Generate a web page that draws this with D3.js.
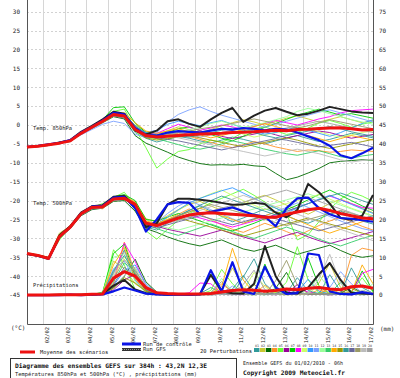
<!DOCTYPE html>
<html><head><meta charset="utf-8">
<script src="https://cdn.jsdelivr.net/npm/d3@7"></script>
<style>body{margin:0;background:#fff}svg{display:block}</style>
</head><body>
<script>
const hours = d3.range(0, 385, 12);
const dateLabels = ["02/02","03/02","04/02","05/02","06/02","07/02","08/02","09/02","10/02","11/02","12/02","13/02","14/02","15/02","16/02","17/02"];
const leftTicks = [30,25,20,15,10,5,0,-5,-10,-15,-20,-25,-30,-35,-40,-45];
const rightTicks = [75,70,65,60,55,50,45,40,35,30,25,20,15,10,5,0];
const memberColors = ["#2f9a9a","#c8c832","#006a00","#ff9428","#66ff33","#990099","#00cc00","#ff00ff","#ccff66","#3399ff","#7aa0ff","#99ff99","#33cc66","#ffaa00","#999900","#339999","#666699","#999966","#bbbbbb","#a0a0a0"];

const t850Mean = [-5.8,-5.6,-5.2,-4.8,-4.2,-2.2,-0.6,1.0,2.8,2.4,-1.2,-2.8,-3.2,-3.0,-2.8,-2.6,-2.4,-2.3,-2.2,-2.0,-1.9,-1.8,-1.6,-1.4,-1.5,-1.2,-1.1,-0.9,-0.8,-0.7,-1.0,-1.3,-1.2];
const t850Ctrl = [-5.8,-5.5,-5.1,-4.7,-4.0,-2.0,-0.5,1.2,3.2,2.8,-0.8,-2.6,-2.8,-2.0,-1.6,-1.8,-2.0,-1.5,-1.0,-1.2,-0.8,-1.0,-1.4,-1.0,-1.2,-2.0,-3.0,-4.0,-5.5,-8.0,-8.8,-7.5,-6.0];
const t850Gfs = [-5.9,-5.6,-5.3,-4.6,-4.0,-1.8,-0.2,1.5,3.5,3.0,-1.5,-2.5,-1.5,1.0,1.5,0.3,-0.5,1.5,3.2,4.5,0.8,2.5,3.8,4.5,3.5,2.6,3.0,3.8,4.8,4.2,3.6,3.3,3.2];
const t850Members = [
[-5.9,-5.5,-5.0,-4.9,-4.0,-2.5,-0.8,0.8,2.5,2.0,-2.0,-3.5,-4.5,-3.8,-3.0,-3.5,-4.2,-4.8,-4.0,-3.2,-3.8,-4.5,-5.0,-4.2,-3.5,-2.8,-3.6,-4.4,-3.8,-3.0,-2.2,-2.8,-3.4],
[-5.8,-5.7,-5.3,-4.6,-4.3,-2.0,-0.4,1.3,3.2,2.6,0.0,-1.8,-2.5,-1.5,-0.5,-1.2,-2.0,-1.2,-0.2,0.6,1.4,0.8,0.0,0.9,1.8,2.4,1.6,0.8,1.5,2.2,1.4,0.6,1.2],
[-5.7,-5.6,-5.1,-4.7,-4.4,-2.4,-0.9,0.6,2.2,1.6,-2.8,-4.8,-6.0,-7.2,-8.5,-9.4,-10.2,-10.6,-10.5,-10.6,-10.4,-10.8,-11.0,-12.8,-14.5,-13.8,-12.7,-11.5,-10.0,-9.6,-9.4,-9.2,-9.3],
[-5.8,-5.4,-5.2,-4.8,-4.1,-2.1,-0.7,1.1,3.0,2.6,-0.5,-2.4,-3.0,-2.6,-2.2,-3.0,-3.8,-4.6,-5.4,-6.0,-5.2,-4.4,-5.0,-5.8,-6.4,-7.0,-6.6,-6.8,-7.2,-7.0,-6.6,-6.8,-7.0],
[-5.8,-5.6,-5.2,-4.7,-4.2,-2.3,-0.6,1.2,3.6,4.2,-1.0,-6.0,-11.4,-9.0,-7.0,-6.5,-5.0,-4.0,-4.5,-3.5,-2.0,-1.0,-0.5,-1.5,-2.5,-2.0,-0.8,0.5,1.2,0.4,-0.6,0.2,0.8],
[-5.9,-5.6,-5.2,-4.8,-4.3,-2.2,-0.5,0.9,2.6,2.2,-1.5,-3.0,-3.4,-3.0,-2.6,-2.0,-1.6,-2.2,-3.0,-3.6,-3.0,-2.4,-1.8,-2.6,-3.4,-2.8,-2.2,-1.6,-2.0,-2.8,-3.5,-3.0,-2.5],
[-5.8,-5.5,-5.1,-4.8,-4.2,-2.0,-0.3,1.4,4.6,4.8,0.5,-2.0,-2.8,-2.0,-1.0,-0.5,-1.5,-2.5,-3.5,-4.2,-3.0,-1.8,-0.6,0.4,1.5,2.6,3.4,4.2,3.4,2.6,3.0,2.4,1.8],
[-5.8,-5.7,-5.2,-4.9,-4.1,-2.2,-0.6,1.0,2.9,2.5,-1.0,-2.4,-2.2,-1.0,0.2,-0.6,-1.4,-0.8,0.0,-0.5,-1.2,-0.4,0.4,1.2,0.6,0.0,0.8,1.6,2.2,3.2,3.8,4.0,4.2],
[-5.7,-5.6,-5.3,-4.6,-4.3,-2.4,-0.8,0.7,2.4,2.0,-1.8,-3.2,-3.8,-3.4,-2.8,-2.4,-2.0,-1.4,-0.8,-1.6,-2.4,-3.2,-2.6,-2.0,-1.2,-0.4,-1.0,-1.8,-2.6,-3.2,-2.6,-2.0,-1.6],
[-5.8,-5.5,-5.2,-4.8,-4.2,-2.1,-0.5,1.1,3.0,2.7,-0.4,-2.0,-1.4,0.2,1.0,0.4,-0.2,0.6,1.2,0.2,-0.8,-1.6,-2.4,-2.0,-1.2,-0.6,-1.4,-2.2,-3.0,-2.0,-0.8,0.4,1.4],
[-5.9,-5.5,-5.0,-4.5,-4.0,-2.6,-1.2,0.2,1.0,0.4,-2.5,-3.2,-2.0,0.8,2.8,4.0,4.8,3.6,2.6,1.8,1.0,0.2,-0.6,0.2,1.0,1.8,2.6,3.4,4.0,3.2,2.4,1.6,0.8],
[-5.8,-5.6,-5.2,-4.7,-4.2,-2.2,-0.4,1.2,3.4,3.0,-0.8,-2.6,-3.0,-2.4,-1.8,-1.2,-0.6,0.4,1.0,0.2,-0.6,-0.2,0.6,1.4,2.2,3.6,4.4,3.8,3.0,2.2,1.4,0.8,0.2],
[-5.8,-5.5,-5.1,-4.8,-4.2,-2.3,-0.7,0.9,2.7,2.3,-1.2,-3.0,-3.6,-4.4,-5.2,-6.0,-6.4,-5.8,-5.0,-4.2,-4.8,-5.6,-6.4,-7.0,-7.6,-8.0,-7.4,-6.8,-7.6,-8.4,-8.8,-8.2,-7.8],
[-5.8,-5.6,-5.3,-4.7,-4.3,-2.1,-0.5,1.1,2.8,3.2,0.6,-1.6,-2.2,-1.6,-1.0,-1.8,-2.6,-3.4,-2.8,-2.0,-1.2,-0.4,0.4,-0.4,-1.2,-2.0,-2.8,-3.6,-4.4,-3.6,-2.8,-3.4,-4.0],
[-5.9,-5.6,-5.2,-4.8,-4.2,-2.2,-0.6,1.0,2.6,2.2,-1.4,-3.4,-4.0,-3.6,-3.2,-2.8,-3.4,-4.0,-4.6,-5.2,-5.8,-5.2,-4.6,-4.0,-3.4,-4.0,-4.8,-5.6,-6.2,-5.6,-5.0,-4.4,-3.8],
[-5.8,-5.5,-5.1,-4.7,-4.1,-2.0,-0.4,1.2,3.1,2.8,-0.2,-2.2,-2.6,-2.2,-2.6,-3.2,-2.6,-2.0,-1.4,-0.8,-1.4,-2.0,-2.8,-3.4,-2.8,-2.2,-1.6,-1.0,-0.4,-1.0,-1.8,-2.4,-3.0],
[-5.8,-5.6,-5.2,-4.8,-4.2,-2.4,-0.8,0.8,2.4,1.8,-1.6,-3.2,-3.4,-3.8,-4.2,-4.8,-5.4,-6.0,-6.6,-6.0,-5.4,-4.8,-4.2,-3.6,-4.0,-4.6,-5.2,-5.8,-5.4,-5.0,-4.6,-5.2,-5.8],
[-5.8,-5.5,-5.2,-4.8,-4.3,-2.2,-0.6,1.0,2.8,2.4,-1.0,-2.8,-3.0,-2.4,-2.0,-1.6,-1.0,-0.6,-0.2,0.4,1.0,1.6,1.0,0.4,-0.2,-0.8,-0.2,0.6,1.4,0.8,0.2,-0.4,-1.0],
[-5.8,-5.6,-5.2,-4.7,-4.2,-2.2,-0.6,1.1,2.9,2.5,-1.2,-3.0,-3.2,-2.8,-3.4,-4.0,-4.6,-5.2,-5.8,-6.4,-7.0,-7.6,-8.2,-7.6,-7.0,-6.4,-7.0,-7.6,-8.4,-9.2,-9.8,-9.4,-9.0],
[-5.8,-5.6,-5.1,-4.8,-4.2,-2.1,-0.6,1.0,2.8,2.4,-1.2,-2.6,-2.8,-2.4,-2.0,-2.6,-3.2,-2.6,-2.0,-1.4,-0.8,-1.4,-2.0,-1.4,-0.8,-0.2,0.4,1.0,0.4,-0.2,-0.8,-1.4,-2.0]
];

const t500Mean = [-34.0,-34.5,-35.3,-29.5,-27.0,-23.5,-21.8,-21.6,-19.6,-19.4,-21.0,-26.0,-26.6,-25.6,-24.6,-23.8,-23.4,-23.2,-23.4,-23.6,-23.8,-24.0,-24.4,-24.4,-23.6,-23.0,-22.4,-22.0,-22.6,-23.4,-24.0,-24.6,-24.8];
const t500Ctrl = [-34.0,-34.6,-35.4,-29.6,-27.0,-23.4,-21.6,-21.4,-19.2,-19.0,-22.0,-28.2,-25.0,-21.0,-20.4,-20.6,-23.6,-23.0,-22.4,-21.8,-22.8,-23.8,-24.2,-26.8,-22.0,-19.4,-19.2,-22.0,-23.6,-24.6,-24.8,-25.2,-25.6];
const t500Gfs = [-34.1,-34.5,-35.2,-29.2,-26.8,-23.2,-21.5,-21.2,-19.0,-18.8,-21.5,-27.0,-26.0,-21.0,-19.5,-19.5,-19.8,-20.1,-20.6,-21.1,-21.0,-20.6,-20.9,-23.2,-24.4,-22.5,-15.6,-17.8,-20.8,-24.6,-25.1,-24.0,-18.5];
const t500Members = [
[-34.2,-34.8,-35.6,-30.2,-27.2,-23.8,-22.0,-21.2,-19.8,-19.0,-22.4,-27.0,-27.8,-26.0,-24.0,-22.6,-21.4,-22.8,-24.2,-25.6,-24.6,-23.4,-22.2,-23.0,-24.0,-25.2,-26.0,-24.8,-23.6,-22.8,-24.0,-25.4,-26.2],
[-33.8,-34.3,-35.0,-28.6,-26.8,-23.2,-21.4,-21.8,-19.4,-19.8,-20.2,-24.8,-25.6,-24.0,-22.4,-21.0,-20.2,-21.4,-22.6,-21.8,-20.6,-19.4,-18.6,-19.8,-21.2,-22.4,-23.6,-22.2,-20.8,-19.6,-20.8,-22.0,-23.2],
[-34.1,-34.6,-35.4,-29.8,-27.4,-24.0,-22.4,-22.0,-20.2,-20.0,-22.8,-27.4,-28.4,-29.6,-30.6,-31.4,-32.0,-31.2,-30.4,-31.6,-32.8,-33.4,-32.6,-31.8,-33.0,-34.2,-33.4,-32.6,-31.8,-33.2,-34.4,-35.0,-34.6],
[-34.0,-34.4,-35.2,-29.0,-26.6,-23.0,-21.6,-22.2,-19.0,-18.6,-20.4,-25.6,-26.4,-25.0,-23.6,-22.2,-23.6,-25.0,-26.4,-27.6,-28.4,-27.2,-26.0,-27.0,-28.2,-29.4,-28.0,-26.6,-25.4,-24.4,-25.6,-26.8,-27.8],
[-34.0,-34.6,-35.2,-30.4,-27.0,-23.6,-21.8,-20.8,-19.2,-17.8,-21.4,-28.0,-30.2,-27.6,-25.2,-23.4,-22.0,-20.6,-19.4,-18.2,-17.0,-18.6,-20.4,-22.0,-23.4,-30.4,-29.0,-25.6,-22.2,-19.6,-17.8,-18.8,-20.2],
[-34.2,-34.5,-35.4,-29.6,-27.1,-23.4,-22.0,-21.6,-19.6,-19.6,-21.2,-26.2,-26.8,-27.6,-28.2,-28.8,-29.4,-28.6,-27.8,-28.8,-29.6,-30.4,-31.2,-30.2,-29.2,-28.4,-29.6,-30.6,-31.4,-30.6,-29.8,-29.0,-28.2],
[-33.9,-34.4,-35.1,-29.2,-26.9,-23.4,-21.6,-21.4,-19.0,-18.4,-20.0,-25.0,-25.4,-24.4,-23.4,-24.4,-25.4,-26.4,-27.4,-28.0,-27.0,-26.0,-24.8,-23.6,-22.4,-21.2,-19.8,-18.4,-17.2,-18.6,-20.0,-21.4,-22.6],
[-34.0,-34.6,-35.3,-29.4,-27.0,-23.6,-21.8,-21.6,-19.6,-19.2,-21.0,-26.2,-26.8,-25.8,-24.8,-23.8,-24.6,-25.4,-26.2,-27.0,-26.2,-25.4,-24.6,-23.8,-22.8,-21.8,-20.8,-19.8,-18.8,-19.8,-20.8,-21.8,-22.0],
[-34.1,-34.5,-35.4,-29.6,-27.2,-23.6,-21.9,-21.8,-19.8,-19.6,-21.4,-26.4,-26.4,-24.6,-22.6,-20.8,-19.4,-18.2,-17.2,-18.6,-20.0,-21.2,-22.4,-21.6,-20.8,-20.0,-19.2,-18.4,-19.6,-20.8,-22.0,-23.0,-24.0],
[-34.0,-34.5,-35.3,-29.4,-27.0,-23.4,-21.7,-21.5,-19.4,-19.2,-20.6,-25.8,-26.2,-24.4,-22.4,-20.6,-19.4,-18.4,-17.4,-16.6,-18.0,-19.4,-20.8,-22.0,-23.2,-22.0,-20.8,-19.6,-18.6,-19.8,-21.0,-22.2,-23.4],
[-34.0,-34.6,-35.5,-29.8,-27.2,-23.8,-22.2,-21.8,-19.8,-19.6,-21.6,-26.6,-25.8,-23.4,-21.4,-20.0,-21.2,-22.4,-23.6,-24.8,-26.0,-25.0,-24.0,-23.0,-21.8,-20.6,-21.8,-23.0,-24.2,-25.4,-26.4,-27.4,-28.0],
[-33.9,-34.4,-35.2,-29.4,-26.9,-23.4,-21.7,-21.6,-19.6,-19.4,-21.0,-26.0,-26.6,-27.2,-27.8,-27.0,-26.2,-25.4,-24.6,-23.8,-23.0,-22.2,-21.4,-20.6,-19.8,-19.0,-18.2,-19.2,-20.2,-21.2,-22.2,-23.2,-24.2],
[-34.1,-34.6,-35.3,-29.6,-27.1,-23.6,-21.9,-21.7,-19.7,-19.5,-21.2,-26.4,-27.4,-28.4,-29.2,-28.2,-27.2,-26.2,-27.2,-28.2,-29.2,-30.0,-29.0,-28.0,-27.0,-28.0,-29.0,-30.2,-31.2,-32.0,-31.0,-30.0,-29.2],
[-34.0,-34.4,-35.2,-29.2,-26.8,-23.2,-21.6,-21.4,-19.4,-18.8,-20.6,-25.4,-26.0,-25.0,-24.0,-23.0,-22.0,-23.0,-24.0,-25.0,-26.0,-25.0,-24.0,-23.0,-24.0,-25.2,-26.4,-27.6,-28.6,-27.6,-26.6,-25.6,-24.8],
[-34.0,-34.5,-35.3,-29.5,-27.0,-23.5,-21.8,-21.6,-19.6,-19.4,-21.0,-26.0,-26.6,-25.6,-24.6,-25.4,-26.2,-27.0,-27.8,-28.6,-29.4,-28.6,-27.8,-27.0,-26.2,-25.4,-24.6,-25.4,-26.2,-27.0,-27.8,-28.6,-29.4],
[-34.0,-34.5,-35.4,-29.6,-27.1,-23.5,-21.8,-21.7,-19.7,-19.5,-21.1,-26.1,-26.8,-25.4,-24.0,-22.6,-21.2,-20.0,-18.8,-19.8,-20.8,-21.8,-22.8,-23.8,-22.8,-21.8,-20.8,-19.8,-18.8,-18.0,-19.0,-20.0,-21.0],
[-34.2,-34.7,-35.5,-29.9,-27.3,-23.8,-22.1,-21.9,-19.9,-19.7,-21.4,-26.6,-27.2,-26.4,-25.6,-24.8,-24.0,-24.8,-25.6,-26.4,-25.6,-24.8,-24.0,-24.8,-25.6,-26.4,-27.2,-28.0,-27.2,-26.4,-25.6,-24.8,-24.0],
[-33.9,-34.4,-35.2,-29.3,-26.9,-23.4,-21.7,-21.5,-19.5,-19.3,-20.9,-25.9,-26.4,-25.2,-24.0,-23.0,-22.0,-21.0,-21.8,-22.6,-23.4,-24.2,-25.0,-25.8,-26.6,-25.8,-25.0,-24.2,-23.4,-22.6,-23.4,-24.2,-25.0],
[-34.0,-34.5,-35.3,-29.5,-27.0,-23.5,-21.8,-21.6,-19.6,-19.4,-21.0,-26.0,-26.6,-25.6,-24.6,-23.6,-22.6,-21.6,-20.6,-19.6,-18.6,-19.6,-20.6,-21.6,-22.6,-23.6,-24.6,-25.6,-26.6,-27.6,-28.6,-29.6,-30.6],
[-34.1,-34.6,-35.4,-29.7,-27.1,-23.7,-22.0,-21.8,-19.8,-19.6,-21.2,-26.2,-26.8,-26.0,-25.2,-24.4,-23.6,-22.8,-22.0,-21.2,-20.4,-19.6,-18.8,-18.0,-17.2,-18.2,-19.2,-20.2,-21.2,-22.2,-23.2,-24.2,-25.2]
];

const precipMean = [0,0,0,0.1,0.1,0.1,0.2,0.3,4.5,6.2,5.0,2.0,0.6,0.4,0.3,0.3,0.3,0.4,0.8,1.2,1.4,1.3,1.0,1.2,1.6,1.4,1.8,2.0,1.6,1.4,2.2,2.4,1.8];
const precipCtrl = [0,0,0,0,0.1,0,0.1,0.2,1.0,2.0,1.2,0.4,0.2,0.1,0.1,0.1,0.2,6.6,1.0,8.7,1.0,0.3,7.5,2.0,0.3,0.5,11.0,10.6,1.0,0.3,0.2,0.8,0.3];
const precipGfs = [0,0,0,0.1,0,0.1,0.1,0.3,2.5,4.0,1.5,0.5,0.2,0.1,0.2,0.1,0.3,5.3,1.0,0.5,0.4,3.0,13.0,5.0,0.6,0.4,2.0,5.5,8.5,4.0,0.6,0.4,0.3];
const precipMembers = [
[0,0,0,0.1,0.2,0,0.2,0.4,6.0,12.0,4.0,0.8,0.2,0.1,0.1,0.1,0.4,2.0,0.6,0.2,4.8,9.6,3.0,0.4,0.2,0.6,0.3,0.2,5.4,1.0,0.2,0.1,0.2],
[0,0,0,0.2,0.1,0.1,0.1,0.6,9.0,7.0,3.0,1.0,0.3,0.2,0.1,0.2,0.1,0.3,1.5,7.2,2.0,0.3,0.2,0.8,0.4,0.1,0.6,3.2,8.4,2.0,0.5,0.4,0.3],
[0,0,0,0,0.1,0.1,0.3,0.2,2.0,5.0,9.5,3.5,0.8,0.3,0.2,0.1,0.1,0.2,0.2,0.4,0.2,0.1,0.3,1.8,6.0,0.8,0.2,0.2,0.1,0.4,2.2,0.6,0.2],
[0,0,0,0.1,0.1,0,0.2,0.3,3.0,14.0,6.0,1.0,0.2,0.1,0.2,0.3,0.2,0.1,3.0,0.8,0.2,0.4,2.6,0.5,0.2,0.3,0.2,1.4,0.6,0.3,10.5,12.4,11.8],
[0,0,0,0.1,0,0.2,0.1,0.5,12.0,8.0,1.5,0.4,0.2,0.3,0.2,0.1,0.2,1.2,6.8,3.0,0.3,0.2,0.4,0.6,3.4,12.8,4.0,0.6,0.3,0.2,1.0,4.6,0.8],
[0,0,0,0,0.1,0.1,0.2,0.3,1.4,4.0,5.5,2.0,0.4,0.2,0.1,0.1,0.2,0.1,0.2,0.3,0.6,0.3,0.2,0.1,0.4,2.8,0.6,0.2,0.1,0.2,0.1,0.3,0.2],
[0,0,0,0.1,0.1,0.1,0.1,0.8,11.0,13.5,5.0,1.2,0.3,0.2,0.1,0.2,0.4,5.6,1.4,0.3,0.2,0.3,8.2,1.6,0.3,0.2,9.8,2.4,0.4,0.3,0.6,6.4,1.0],
[0,0,0,0.1,0.2,0.1,0.3,0.4,4.0,13.8,9.0,2.4,0.5,0.3,0.2,0.6,3.2,3.0,0.5,0.2,0.1,0.3,0.4,0.2,0.6,2.0,0.8,0.3,0.2,0.4,0.6,5.8,6.8],
[0,0,0,0,0.1,0,0.2,0.3,5.0,10.0,7.0,1.6,0.3,0.2,0.1,0.1,0.2,0.3,0.2,0.4,1.2,6.0,2.2,0.4,0.2,0.4,0.3,2.6,0.4,0.2,0.3,0.2,0.3],
[0,0,0,0.1,0.1,0.1,0.1,0.2,2.5,6.5,8.0,3.0,0.6,0.2,0.2,0.2,0.1,0.3,0.5,0.3,0.2,0.2,0.4,0.3,0.2,0.8,4.2,1.0,0.3,0.2,0.6,0.4,0.5],
[0,0,0,0,0.1,0.1,0.2,0.4,7.0,9.0,4.0,0.8,0.2,0.1,0.2,0.1,0.3,0.2,0.4,2.4,0.6,0.3,0.2,0.4,0.3,0.2,0.4,0.2,2.0,6.2,3.0,0.6,0.4],
[0,0,0,0.1,0.1,0.1,0.2,0.6,10.0,11.0,3.6,0.6,0.2,0.1,0.1,0.2,0.2,0.6,4.4,1.0,0.3,2.6,7.4,1.2,0.2,0.4,0.6,5.4,1.4,0.3,0.2,0.8,3.0],
[0,0,0,0,0.1,0.1,0.1,0.3,3.5,8.5,6.5,2.2,0.4,0.2,0.1,0.1,0.2,0.1,0.2,0.4,0.3,0.2,0.1,0.3,0.4,0.2,0.3,0.6,0.4,3.4,1.0,0.3,0.2],
[0,0,0,0.1,0.1,0.2,0.1,0.5,8.0,12.6,4.4,1.0,0.3,0.2,0.3,0.2,0.4,0.3,2.2,12.4,4.0,0.6,0.3,0.2,0.4,0.3,0.2,0.4,1.8,0.4,0.6,8.0,3.0],
[0,0,0,0,0.1,0.1,0.2,0.2,1.8,4.6,3.2,1.0,0.2,0.1,0.1,0.1,0.2,0.2,0.3,0.2,0.6,2.8,0.5,0.2,0.1,0.2,0.4,0.2,0.3,0.6,1.8,0.4,0.2],
[0,0,0,0.1,0.1,0.1,0.1,0.4,6.5,10.5,5.5,1.4,0.3,0.2,0.1,0.1,0.1,0.2,0.4,1.6,5.2,1.0,0.3,0.2,0.6,4.6,1.2,0.3,0.2,0.4,7.2,2.0,0.5],
[0,0,0,0,0.1,0.1,0.2,0.3,2.8,7.4,4.8,1.4,0.3,0.2,0.1,0.2,0.3,0.2,0.2,0.1,0.2,0.3,0.2,0.4,1.6,0.6,0.2,0.2,0.3,0.2,0.4,0.3,0.2],
[0,0,0,0.1,0.1,0.1,0.1,0.3,4.2,9.4,6.0,1.8,0.4,0.2,0.1,0.1,0.2,0.6,3.6,0.8,0.2,0.3,0.2,3.8,9.2,2.6,0.3,0.2,0.5,0.3,0.2,0.4,0.6],
[0,0,0,0,0.1,0.1,0.1,0.2,2.2,5.2,7.4,2.6,0.6,0.3,0.2,0.1,0.2,0.1,0.2,0.3,0.4,0.2,0.3,0.2,0.4,0.2,0.3,4.2,10.8,3.0,0.4,0.3,0.2],
[0,0,0,0.1,0.2,0.1,0.2,0.3,5.6,11.6,6.8,1.6,0.3,0.2,0.1,0.2,0.2,0.3,0.4,0.3,2.8,6.6,1.4,0.3,0.2,0.3,0.4,0.3,0.2,0.4,0.3,1.2,0.6]
];

const W = 400, H = 378;
const svg = d3.select("body").append("svg").attr("width", W).attr("height", H);
const FONT = "DejaVu Sans Mono, monospace";

const x = d3.scaleLinear().domain([0, 384]).range([27, 373]);
const y = d3.scaleLinear().domain([-45, 30]).range([295.1, 11.6]);
const yR = d3.scaleLinear().domain([0, 75]).range([295.1, 11.6]);
const plotTop = 0, plotBottom = 324;

// grid
const g = svg.append("g");
g.selectAll("line.h").data(leftTicks).join("line")
  .attr("x1", 27).attr("x2", 373).attr("y1", d => Math.round(y(d)) + 0.5).attr("y2", d => Math.round(y(d)) + 0.5)
  .attr("stroke", "#d2d2d2").attr("stroke-width", 1).attr("stroke-dasharray", "2,2");
const dayHours = dateLabels.map((d, i) => 18 + 24 * i);
g.selectAll("line.v").data(dayHours).join("line")
  .attr("x1", d => Math.round(x(d)) + 0.5).attr("x2", d => Math.round(x(d)) + 0.5)
  .attr("y1", plotTop).attr("y2", plotBottom)
  .attr("stroke", "#d6d6d6").attr("stroke-width", 1);

// axes frame
svg.append("line").attr("x1", 27.5).attr("x2", 27.5).attr("y1", 0).attr("y2", plotBottom + 0.5).attr("stroke", "#555");
svg.append("line").attr("x1", 373.5).attr("x2", 373.5).attr("y1", 0).attr("y2", plotBottom + 0.5).attr("stroke", "#555");
svg.append("line").attr("x1", 27.5).attr("x2", 373.5).attr("y1", plotBottom + 0.5).attr("y2", plotBottom + 0.5).attr("stroke", "#555");

// tick labels
svg.selectAll("text.lt").data(leftTicks).join("text")
  .attr("x", 20).attr("y", d => y(d) + 2.3).attr("text-anchor", "end")
  .attr("font-family", FONT).attr("font-size", 6).attr("fill", "#222").text(d => d);
svg.selectAll("text.rt").data(rightTicks).join("text")
  .attr("x", 379).attr("y", d => yR(d) + 2.3).attr("text-anchor", "start")
  .attr("font-family", FONT).attr("font-size", 6).attr("fill", "#222").text(d => d);
svg.append("text").attr("x", 11).attr("y", 329.5).attr("font-family", FONT).attr("font-size", 6).attr("fill", "#222").text("(°C)");
svg.append("text").attr("x", 380).attr("y", 330.5).attr("font-family", FONT).attr("font-size", 6).attr("fill", "#222").text("(mm)");

// date labels
svg.selectAll("text.dl").data(dateLabels).join("text")
  .attr("transform", (d, i) => `translate(${x(dayHours[i]) + 5.5},${327}) rotate(-90)`)
  .attr("text-anchor", "end").attr("font-family", FONT).attr("font-size", 5.4).attr("fill", "#222").text(d => d);

// panel labels
const lab = [["Temp. 850hPa", -0.9], ["Temp. 500hPa", -20.6], ["Précipitations", -42.3]];
svg.selectAll("text.pl").data(lab).join("text")
  .attr("x", 33).attr("y", d => y(d[1]) + 2).attr("font-family", FONT).attr("font-size", 5.4).attr("fill", "#222").text(d => d[0]);

// series
const line = sc => d3.line().x((d, i) => x(hours[i])).y(d => sc(d));
const lT = line(y), lP = line(yR);
const members = svg.append("g").attr("fill", "none");
function drawMembers(arr, gen) {
  members.selectAll(null).data(arr).join("path")
    .attr("d", d => gen(d)).attr("stroke", (d, i) => memberColors[i]).attr("stroke-width", 0.9);
}
drawMembers(t850Members, lT);
drawMembers(t500Members, lT);
drawMembers(precipMembers, lP);

const main = svg.append("g").attr("fill", "none").attr("stroke-linejoin", "round");
[[t850Gfs, lT], [t500Gfs, lT], [precipGfs, lP]].forEach(([d, gen]) =>
  main.append("path").attr("d", gen(d)).attr("stroke", "#222").attr("stroke-width", 2));
[[t850Ctrl, lT], [t500Ctrl, lT], [precipCtrl, lP]].forEach(([d, gen]) =>
  main.append("path").attr("d", gen(d)).attr("stroke", "#0a14e6").attr("stroke-width", 2.2));
[[t850Mean, lT], [t500Mean, lT], [precipMean, lP]].forEach(([d, gen]) =>
  main.append("path").attr("d", gen(d)).attr("stroke", "#ee1111").attr("stroke-width", 3));

// legend
svg.append("line").attr("x1", 20).attr("x2", 35).attr("y1", 352).attr("y2", 352).attr("stroke", "#ee1111").attr("stroke-width", 3);
svg.append("text").attr("x", 40).attr("y", 354.3).attr("font-family", FONT).attr("font-size", 5.4).attr("fill", "#222").text("Moyenne des scénarios");
svg.append("line").attr("x1", 122).attr("x2", 141).attr("y1", 344).attr("y2", 344).attr("stroke", "#0a14e6").attr("stroke-width", 3);
svg.append("text").attr("x", 143).attr("y", 346.3).attr("font-family", FONT).attr("font-size", 5.4).attr("fill", "#222").text("Run de contrôle");
svg.append("line").attr("x1", 122).attr("x2", 141).attr("y1", 349.5).attr("y2", 349.5).attr("stroke", "#333").attr("stroke-width", 3);
svg.append("line").attr("x1", 122).attr("x2", 141).attr("y1", 349.5).attr("y2", 349.5).attr("stroke", "#999").attr("stroke-width", 1).attr("stroke-dasharray", "1,1");
svg.append("text").attr("x", 143).attr("y", 351.3).attr("font-family", FONT).attr("font-size", 5.4).attr("fill", "#222").text("Run GFS");
svg.append("text").attr("x", 200).attr("y", 353.3).attr("font-family", FONT).attr("font-size", 5.4).attr("fill", "#222").text("20 Perturbations");

const sw = d3.scaleBand().domain(d3.range(20)).range([254, 373]);
svg.selectAll("rect.sw").data(memberColors).join("rect")
  .attr("x", (d, i) => sw(i)).attr("y", 348).attr("width", sw.bandwidth() - 0.5).attr("height", 4).attr("fill", d => d);
svg.selectAll("text.sn").data(memberColors).join("text")
  .attr("x", (d, i) => sw(i) + sw.bandwidth() / 2).attr("y", 346.5).attr("text-anchor", "middle")
  .attr("font-family", FONT).attr("font-size", 3.3).attr("fill", "#333").text((d, i) => String(i + 1).padStart(2, "0"));

// footer
svg.append("rect").attr("x", 10.5).attr("y", 358.5).attr("width", 226).attr("height", 22).attr("fill", "none").attr("stroke", "#333");
svg.append("text").attr("x", 15).attr("y", 368.3).attr("font-family", FONT).attr("font-size", 6.2).attr("font-weight", "bold").attr("fill", "#111")
  .attr("textLength", 192).attr("lengthAdjust", "spacingAndGlyphs").text("Diagramme des ensembles GEFS sur 384h : 43,2N 12,3E");
svg.append("text").attr("x", 15).attr("y", 376.3).attr("font-family", FONT).attr("font-size", 5.4).attr("fill", "#222")
  .attr("textLength", 182).attr("lengthAdjust", "spacingAndGlyphs").text("Températures 850hPa et 500hPa (°C) , précipitations (mm)");
svg.append("text").attr("x", 243).attr("y", 365.3).attr("font-family", FONT).attr("font-size", 5.4).attr("fill", "#222")
  .attr("textLength", 100).attr("lengthAdjust", "spacingAndGlyphs").text("Ensemble GEFS du 01/02/2010 - 06h");
svg.append("text").attr("x", 243).attr("y", 375.3).attr("font-family", FONT).attr("font-size", 6.2).attr("font-weight", "bold").attr("fill", "#111")
  .attr("textLength", 102).attr("lengthAdjust", "spacingAndGlyphs").text("Copyright 2009 Meteociel.fr");
</script>
</body></html>
